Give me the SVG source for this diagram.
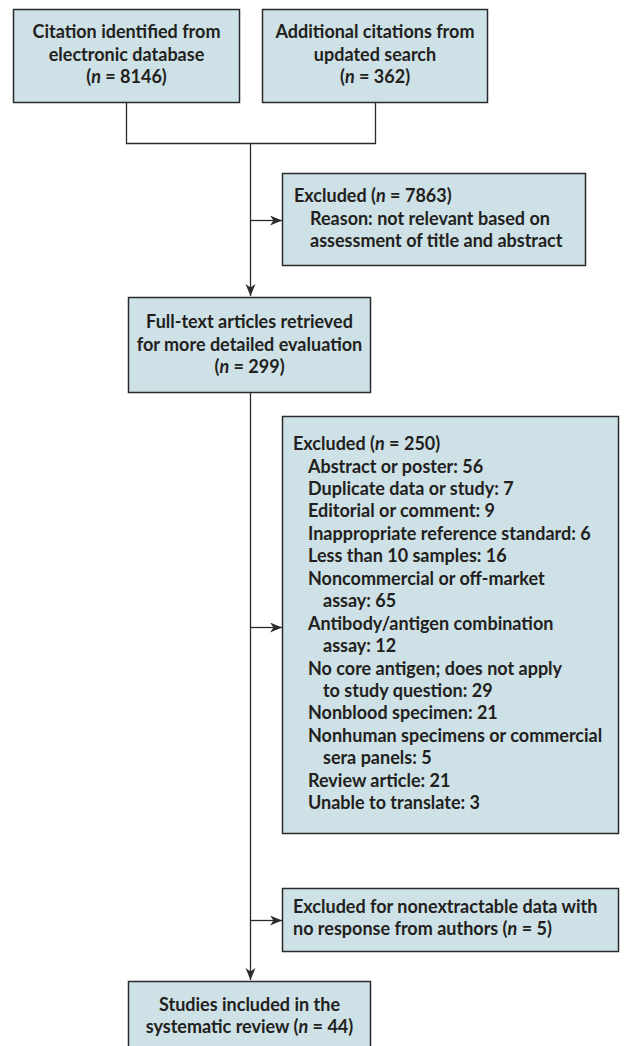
<svg xmlns="http://www.w3.org/2000/svg" width="626" height="1046" viewBox="0 0 626 1046">
<defs>
<style>
.box{fill:#cde1e6;stroke:#2b2b2b;stroke-width:1.5}
.t{font-family:Lato,"Open Sans","Liberation Sans",sans-serif;font-weight:700;font-size:18px;fill:#231f20}
.c{text-anchor:middle}
.i{font-style:italic}
.ln{fill:none;stroke:#2b2b2b;stroke-width:1.3}
</style>
<marker id="ah" markerUnits="userSpaceOnUse" markerWidth="13" markerHeight="11" refX="12" refY="5" orient="auto">
<path d="M0,0 L12,5 L0,10 L3.5,5 z" fill="#2b2b2b"/>
</marker>
</defs>
<rect width="626" height="1046" fill="#fff"/>
<g id="connectors">
<path class="ln" d="M126.5,102 V143.5 H375.5 V102"/>
<path class="ln" d="M250.5,143.5 V296" marker-end="url(#ah)"/>
<path class="ln" d="M250.5,220.5 H282" marker-end="url(#ah)"/>
<path class="ln" d="M250.5,393 V980" marker-end="url(#ah)"/>
<path class="ln" d="M250.5,627.5 H282" marker-end="url(#ah)"/>
<path class="ln" d="M250.5,920.5 H282" marker-end="url(#ah)"/>
</g>
<g id="n1">
<rect class="box" x="13.5" y="9.5" width="226" height="93"/>
<text class="t c" x="126.5" y="38">Citation identified from</text>
<text class="t c" x="126.5" y="61">electronic database</text>
<text class="t c" x="126.5" y="83">(<tspan class="i">n</tspan> = 8146)</text>
</g>
<g id="n2">
<rect class="box" x="262.5" y="9.5" width="225" height="93"/>
<text class="t c" x="375" y="38">Additional citations from</text>
<text class="t c" x="375" y="61">updated search</text>
<text class="t c" x="375" y="83">(<tspan class="i">n</tspan> = 362)</text>
</g>
<g id="n3">
<rect class="box" x="282.5" y="173.5" width="303" height="92"/>
<text class="t" x="294" y="202">Excluded (<tspan class="i">n</tspan> = 7863)</text>
<text class="t" x="310" y="224.5">Reason: not relevant based on</text>
<text class="t" x="310" y="247">assessment of title and abstract</text>
</g>
<g id="n4">
<rect class="box" x="128.5" y="297.5" width="242" height="95"/>
<text class="t c" x="249.5" y="328">Full-text articles retrieved</text>
<text class="t c" x="249.5" y="350.5">for more detailed evaluation</text>
<text class="t c" x="249.5" y="373">(<tspan class="i">n</tspan> = 299)</text>
</g>
<g id="n5">
<rect class="box" x="282.5" y="416.5" width="336" height="417"/>
<text class="t" x="293" y="450">Excluded (<tspan class="i">n</tspan> = 250)</text>
<text class="t" x="308" y="472.5">Abstract or poster: 56</text>
<text class="t" x="308" y="495">Duplicate data or study: 7</text>
<text class="t" x="308" y="517.4">Editorial or comment: 9</text>
<text class="t" x="308" y="539.8">Inappropriate reference standard: 6</text>
<text class="t" x="308" y="562.3">Less than 10 samples: 16</text>
<text class="t" x="308" y="584.7">Noncommercial or off-market</text>
<text class="t" x="323" y="607.2">assay: 65</text>
<text class="t" x="308" y="629.6">Antibody/antigen combination</text>
<text class="t" x="323" y="652">assay: 12</text>
<text class="t" x="308" y="674.5">No core antigen; does not apply</text>
<text class="t" x="323" y="697">to study question: 29</text>
<text class="t" x="308" y="719.4">Nonblood specimen: 21</text>
<text class="t" x="308" y="741.8">Nonhuman specimens or commercial</text>
<text class="t" x="323" y="764.3">sera panels: 5</text>
<text class="t" x="308" y="786.7">Review article: 21</text>
<text class="t" x="308" y="809.2">Unable to translate: 3</text>
</g>
<g id="n6">
<rect class="box" x="282.5" y="888.5" width="336" height="63"/>
<text class="t" x="293" y="913">Excluded for nonextractable data with</text>
<text class="t" x="293" y="935">no response from authors (<tspan class="i">n</tspan> = 5)</text>
</g>
<g id="n7">
<rect class="box" x="128.5" y="981.5" width="242" height="80"/>
<text class="t c" x="249.5" y="1011">Studies included in the</text>
<text class="t c" x="249.5" y="1033">systematic review (<tspan class="i">n</tspan> = 44)</text>
</g>
</svg>
